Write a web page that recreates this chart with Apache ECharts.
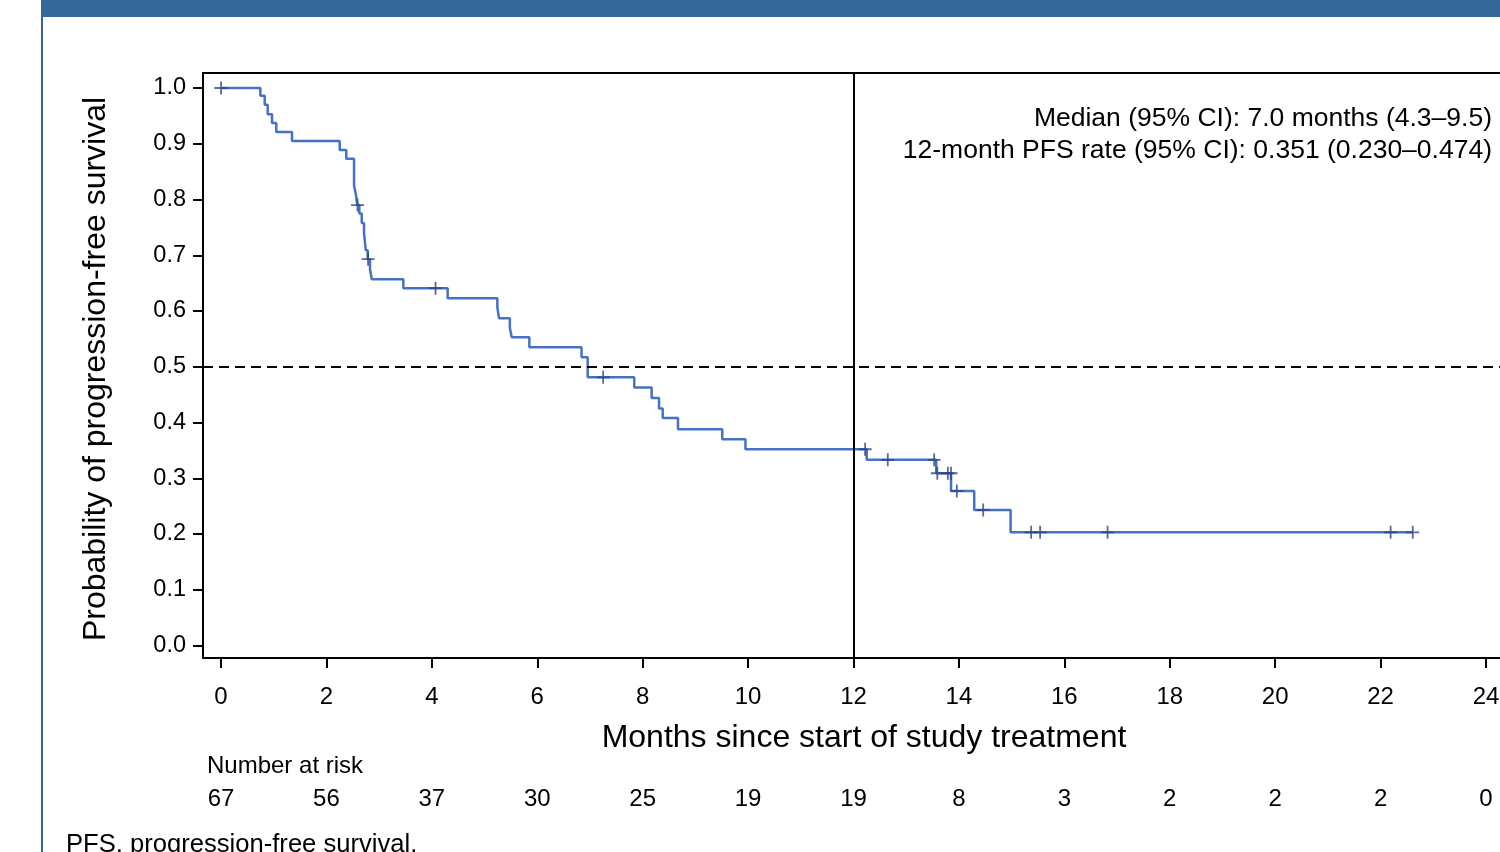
<!DOCTYPE html>
<html>
<head>
<meta charset="utf-8">
<script src="https://cdn.jsdelivr.net/npm/echarts@6/dist/echarts.min.js"></script>
<style>
html,body{margin:0;padding:0;background:#fff;}
#chart{width:1500px;height:852px;}
</style>
</head>
<body>
<div id="chart"></div>
<script>
// Kaplan-Meier step points: [months, survival probability after event]
const kmTimes = [0, 0.746, 0.829, 0.886, 0.968, 1.049, 1.347, 2.252, 2.377, 2.524, 2.561, 2.586, 2.624, 2.670, 2.713, 2.746, 2.784, 2.827, 2.860, 3.459, 4.30, 5.243, 5.275, 5.48, 5.515, 5.85, 6.84, 6.957, 7.84, 8.17, 8.31, 8.38, 8.67, 9.51, 9.95, 12.25, 13.57, 13.85, 14.29, 14.98, 22.61];
const kmSurv  = [1.0, 0.986, 0.970, 0.953, 0.937, 0.921, 0.905, 0.889, 0.873, 0.825, 0.808, 0.790, 0.775, 0.758, 0.740, 0.709, 0.693, 0.675, 0.657, 0.641, 0.623, 0.606, 0.587, 0.570, 0.553, 0.535, 0.517, 0.481, 0.463, 0.444, 0.425, 0.408, 0.388, 0.370, 0.352, 0.333, 0.309, 0.277, 0.243, 0.203, 0.203];
// Censored observations
const censorTimes = [0, 2.59, 2.79, 4.07, 7.25, 12.22, 12.65, 13.53, 13.59, 13.79, 13.85, 13.96, 14.46, 15.37, 15.54, 16.82, 22.19, 22.61];
const censorSurv  = [1.0, 0.790, 0.693, 0.641, 0.481, 0.352, 0.333, 0.333, 0.309, 0.309, 0.309, 0.277, 0.243, 0.203, 0.203, 0.203, 0.203, 0.203];
// Axis ticks
const xTicks = [0, 2, 4, 6, 8, 10, 12, 14, 16, 18, 20, 22, 24];
const yTicks = [0.0, 0.1, 0.2, 0.3, 0.4, 0.5, 0.6, 0.7, 0.8, 0.9, 1.0];
// Number at risk at each x tick
const atRisk = [67, 56, 37, 30, 25, 19, 19, 8, 3, 2, 2, 2, 0];
// Reference lines
const medianRef = 0.5;
const landmarkMonth = 12;
// Texts
const annotLines = ['Median (95% CI): 7.0 months (4.3\u20139.5)', '12-month PFS rate (95% CI): 0.351 (0.230\u20130.474)'];
const xTitle = 'Months since start of study treatment';
const yTitle = 'Probability of progression-free survival';
const riskTitle = 'Number at risk';
const footnote = 'PFS, progression-free survival.';

const FONT = '"Liberation Sans", Arial, Helvetica, sans-serif';
const chart = echarts.init(document.getElementById('chart'), null, {renderer: 'canvas'});

const kmData = kmTimes.map((t, i) => [t, kmSurv[i]]);
const censorData = censorTimes.map((t, i) => [t, censorSurv[i]]);

const X_MIN = -0.3415, X_MAX = 24.265;

const option = {
  animation: false,
  backgroundColor: '#fff',
  grid: {
    left: 203, top: 73, right: 0, bottom: 194,
    outerBoundsMode: 'none',
    containLabel: false,
    show: false
  },
  xAxis: [{
    type: 'value', min: X_MIN, max: X_MAX,
    position: 'bottom',
    axisLine: {show: true, onZero: false, lineStyle: {color: '#000', width: 2}},
    axisTick: {show: true, customValues: xTicks, length: 10, inside: false, lineStyle: {color: '#000', width: 2}},
    axisLabel: {show: true, customValues: xTicks, margin: 27, color: '#000', fontSize: 24, fontFamily: FONT,
      formatter: v => String(Math.round(v))},
    splitLine: {show: false}
  }, {
    type: 'value', min: X_MIN, max: X_MAX,
    position: 'bottom', offset: 121,
    axisLine: {show: false},
    axisTick: {show: false},
    axisLabel: {show: true, customValues: xTicks, margin: 8, color: '#000', fontSize: 24, fontFamily: FONT,
      formatter: v => { const i = xTicks.indexOf(Math.round(v)); return i >= 0 ? String(atRisk[i]) : ''; }},
    splitLine: {show: false}
  }, {
    type: 'value', min: X_MIN, max: X_MAX,
    position: 'top',
    axisLine: {show: true, onZero: false, lineStyle: {color: '#000', width: 2}},
    axisTick: {show: false},
    axisLabel: {show: false},
    splitLine: {show: false}
  }],
  yAxis: {
    type: 'value', min: -0.0224, max: 1.0269,
    axisLine: {show: true, onZero: false, lineStyle: {color: '#000', width: 2}},
    axisTick: {show: true, customValues: yTicks, length: 10, lineStyle: {color: '#000', width: 2}},
    axisLabel: {show: true, customValues: yTicks, margin: 17, color: '#000', fontSize: 23.5, fontFamily: FONT,
      formatter: v => v.toFixed(1)},
    splitLine: {show: false}
  },
  series: [{
    type: 'line',
    data: kmData,
    step: 'end',
    showSymbol: false,
    symbol: 'none',
    lineStyle: {color: '#4472C4', width: 2.5},
    z: 3,
    markLine: {
      silent: true,
      symbol: ['none', 'none'],
      label: {show: false},
      data: [
        {yAxis: medianRef, lineStyle: {color: '#000', width: 2, type: [10, 6]}},
        {xAxis: landmarkMonth, lineStyle: {color: '#000', width: 2, type: 'solid'}}
      ]
    }
  }, {
    type: 'scatter',
    data: censorData,
    symbol: 'path://M0,-1L0,1M-1,0L1,0',
    symbolSize: 13,
    itemStyle: {color: 'rgba(0,0,0,0)', borderColor: '#2E4486', borderWidth: 1.8},
    z: 4
  }],
  graphic: [
    {type: 'rect', shape: {x: 41, y: 0, width: 1470, height: 17}, style: {fill: '#34689A'}},
    {type: 'rect', shape: {x: 41, y: 17, width: 2, height: 840}, style: {fill: '#34689A'}},
    {type: 'text', style: {text: annotLines[0], x: 1492, y: 119, textAlign: 'right', textVerticalAlign: 'middle', fontSize: 26.5, fontFamily: FONT, fill: '#000'}},
    {type: 'text', style: {text: annotLines[1], x: 1492, y: 151, textAlign: 'right', textVerticalAlign: 'middle', fontSize: 26.5, fontFamily: FONT, fill: '#000'}},
    {type: 'text', style: {text: xTitle, x: 864, y: 738, textAlign: 'center', textVerticalAlign: 'middle', fontSize: 32, fontFamily: FONT, fill: '#000'}},
    {type: 'text', rotation: Math.PI / 2, x: 96, y: 369, style: {text: yTitle, x: 0, y: 0, textAlign: 'center', textVerticalAlign: 'middle', fontSize: 32, fontFamily: FONT, fill: '#000'}},
    {type: 'text', style: {text: riskTitle, x: 207, y: 766, textAlign: 'left', textVerticalAlign: 'middle', fontSize: 24, fontFamily: FONT, fill: '#000'}},
    {type: 'text', style: {text: footnote, x: 66, y: 845, textAlign: 'left', textVerticalAlign: 'middle', fontSize: 25.6, fontFamily: FONT, fill: '#000'}}
  ]
};
chart.setOption(option);
</script>
</body>
</html>
